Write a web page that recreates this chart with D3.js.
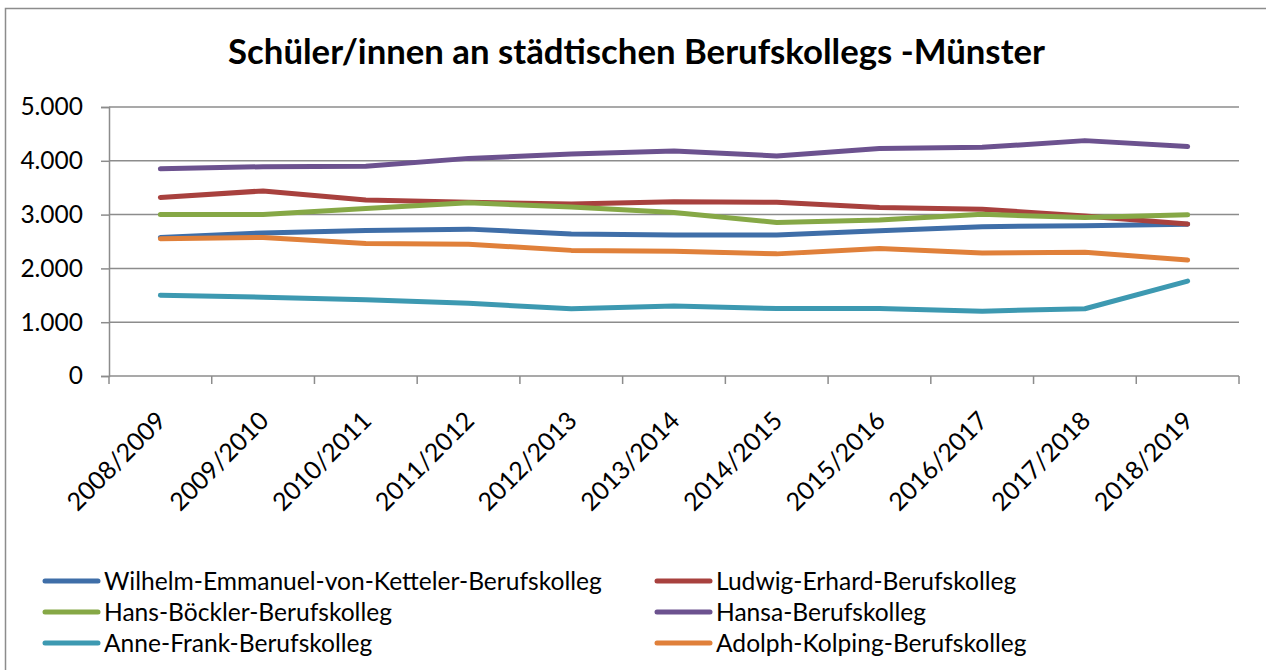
<!DOCTYPE html>
<html><head><meta charset="utf-8">
<script src="https://cdn.jsdelivr.net/npm/d3@7"></script>
<style>body{margin:0;background:#fff}svg{display:block}</style>
</head><body>
<svg id="c" width="1266" height="670"></svg>
<script>
const years = ["2008/2009","2009/2010","2010/2011","2011/2012","2012/2013","2013/2014","2014/2015","2015/2016","2016/2017","2017/2018","2018/2019"];
const yTicks = [0,1000,2000,3000,4000,5000];
const seriesNames = ["Wilhelm-Emmanuel-von-Ketteler-Berufskolleg","Ludwig-Erhard-Berufskolleg","Hans-Böckler-Berufskolleg","Hansa-Berufskolleg","Anne-Frank-Berufskolleg","Adolph-Kolping-Berufskolleg"];
const ketteler = [2575,2660,2705,2730,2640,2620,2620,2700,2775,2795,2820];
const erhard   = [3320,3440,3270,3230,3195,3240,3230,3130,3100,2975,2825];
const boeckler = [3000,3000,3115,3220,3140,3040,2855,2900,3005,2945,2995];
const hansa    = [3850,3890,3900,4045,4125,4180,4090,4230,4250,4375,4265];
const anneFrank= [1500,1465,1415,1350,1250,1300,1255,1255,1205,1250,1765];
const kolping  = [2550,2575,2465,2450,2335,2320,2270,2370,2285,2300,2155];
const seriesValues = [ketteler, erhard, boeckler, hansa, anneFrank, kolping];
const colors = ["#3f6ea8","#a8413e","#86a846","#6c528f","#3d99b1","#e0803a"];

const svg = d3.select("#c");
const font = "Lato, 'Open Sans', sans-serif";
function fit(sel, target, base){
  sel.attr("font-size", base);
  const w = sel.node().getComputedTextLength();
  sel.attr("font-size", (base*target/w).toFixed(2));
}

// outer border
svg.append("rect").attr("x",5.5).attr("y",8.5).attr("width",1400).attr("height",800)
  .attr("fill","none").attr("stroke","#8c8c8c").attr("stroke-width",1.5);

const L=109, R=1239, T=107, B=376;
const x = d3.scaleBand().domain(years).range([L,R]);
const y = d3.scaleLinear().domain([0,5000]).range([B,T]);

// title
const title = svg.append("text").attr("x",(228+1045)/2).attr("y",64).attr("text-anchor","middle")
  .attr("font-family",font).attr("font-weight","bold").attr("fill","#000")
  .text("Schüler/innen an städtischen Berufskollegs -Münster");
fit(title, 817, 30);

// gridlines + y axis
const yAxis = d3.axisLeft(y).tickValues(yTicks).tickSize(8).tickPadding(18)
  .tickFormat(d => d3.format(",")(d).replace(/,/g,"."));
const gy = svg.append("g").attr("transform",`translate(${L},0)`).call(yAxis);
gy.select(".domain").attr("stroke","#8c8c8c").attr("stroke-width",1.5);
gy.selectAll(".tick line").attr("stroke","#8c8c8c").attr("stroke-width",1.5);
gy.selectAll(".tick text").attr("font-family",font).attr("fill","#000").attr("font-size",24.5);
svg.append("g").selectAll("line").data(yTicks.filter(d=>d>0)).join("line")
  .attr("x1",L).attr("x2",R).attr("y1",d=>y(d)).attr("y2",d=>y(d))
  .attr("stroke","#8c8c8c").attr("stroke-width",1.5);

// x axis
const gx = svg.append("g").attr("transform",`translate(0,${B})`);
gx.append("line").attr("x1",L).attr("x2",R).attr("stroke","#8c8c8c").attr("stroke-width",1.5);
const bounds = years.map(d=>x(d)).concat([R]);
gx.selectAll("line.tk").data(bounds).join("line").attr("class","tk")
  .attr("x1",d=>d).attr("x2",d=>d).attr("y1",0).attr("y2",8)
  .attr("stroke","#8c8c8c").attr("stroke-width",1.5);
gx.selectAll("text").data(years).join("text")
  .attr("transform",d=>`translate(${x(d)+x.bandwidth()/2+1},${40}) rotate(-45)`)
  .attr("text-anchor","end").attr("dy","0.35em")
  .attr("font-family",font).attr("font-size",25).attr("fill","#000").text(d=>d);

// lines
const line = d3.line().x((d,i)=>x(years[i])+x.bandwidth()/2).y(d=>y(d));
svg.append("g").selectAll("path").data(seriesValues).join("path")
  .attr("d",line).attr("fill","none").attr("stroke",(d,i)=>colors[i])
  .attr("stroke-width",5).attr("stroke-linecap","round").attr("stroke-linejoin","round");

// legend
const legPos = [[45,581],[657,581],[45,612],[657,612],[45,643],[657,643]];
const lg = svg.append("g").selectAll("g").data(seriesNames).join("g")
  .attr("transform",(d,i)=>`translate(${legPos[i][0]},${legPos[i][1]})`);
lg.append("line").attr("x1",0).attr("x2",53).attr("stroke",(d,i)=>colors[i])
  .attr("stroke-width",5).attr("stroke-linecap","round");
lg.append("text").attr("x",59).attr("dy","0.35em").attr("font-family",font)
  .attr("font-size",22).attr("fill","#000").text(d=>d);
const lt0 = lg.select("text").filter((d,i)=>i===0);
fit(lt0, 498, 22);
const fs = lt0.attr("font-size");
lg.selectAll("text").attr("font-size",fs);
</script>
</body></html>
